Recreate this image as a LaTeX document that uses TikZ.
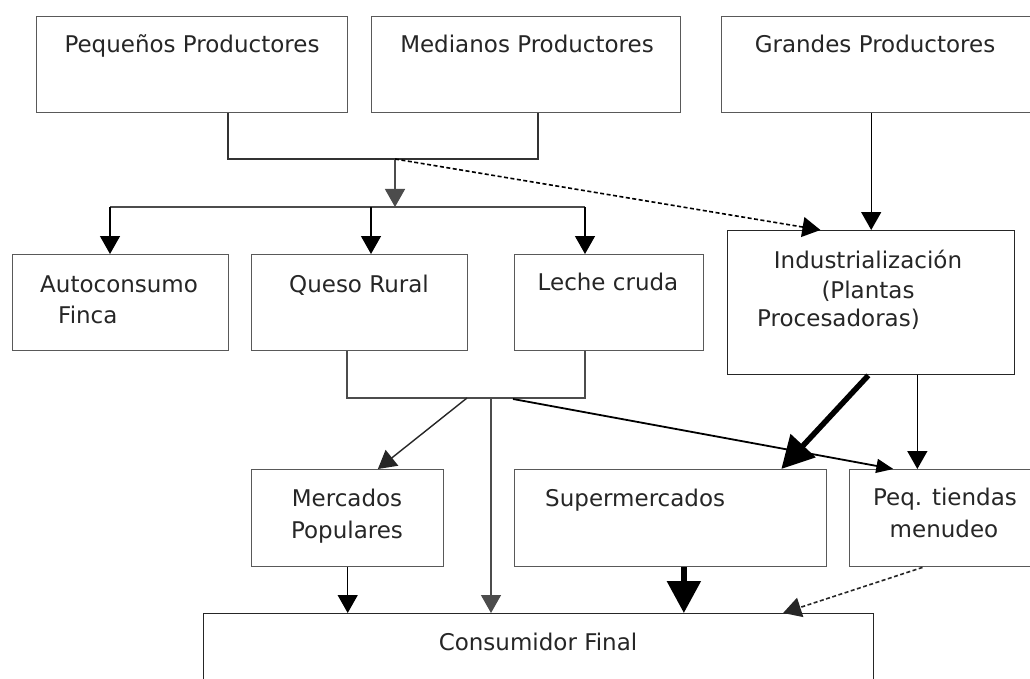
\documentclass[tikz,border=0pt]{standalone}
\usepackage{fontspec}
\setmainfont{DejaVu Sans}
\usetikzlibrary{arrows.meta,calc}
\begin{document}
\begin{tikzpicture}[x=1pt,y=-1pt,
  box/.style={draw=black!65,line width=1.4pt,rectangle,inner sep=0pt,anchor=north west},
  txt/.style={anchor=base,inner sep=0pt,font=\fontsize{23}{31}\selectfont,text=black!85},
  conn/.style={line width=1.4pt,draw=black},
  tip/.style={-{Triangle[width=20pt,length=18pt]}},
  slimtip/.style={-{Triangle[width=14pt,length=17pt]}},
  bigtip/.style={-{Triangle[width=33pt,length=32pt]},line width=5.5pt},
  dash2/.style={dash pattern=on 4pt off 2.5pt}
]
\useasboundingbox (0,0) rectangle (1030,679);
\clip (0,0) rectangle (1030,679);
\fill[white] (0,0) rectangle (1030,679);

% boxes
\node[box,minimum width=311pt,minimum height=96pt] (peq) at (36,16) {};
\node[box,minimum width=309pt,minimum height=96pt] (med) at (371,16) {};
\node[box,minimum width=330pt,minimum height=96pt] (gra) at (721,16) {};
\node[box,minimum width=216pt,minimum height=96pt] (auto) at (12,254) {};
\node[box,minimum width=216pt,minimum height=96pt] (queso) at (251,254) {};
\node[box,minimum width=189pt,minimum height=96pt] (leche) at (514,254) {};
\node[box,draw=black!85,minimum width=287pt,minimum height=144pt] (ind) at (727,230) {};
\node[box,minimum width=192pt,minimum height=97pt] (merc) at (251,469) {};
\node[box,minimum width=312pt,minimum height=97pt] (sup) at (514,469) {};
\node[box,minimum width=200pt,minimum height=97pt] (peqt) at (849,469) {};
\node[box,draw=black!85,minimum width=670pt,minimum height=130pt] (cons) at (203,613) {};

% texts
\node[txt] (tpeq) at (192,53) {Pequeños Productores};
\node[txt] (tmed) at (527,53) {Medianos Productores};
\node[txt] (tgra) at (875,53) {Grandes Productores};
\node[txt,anchor=base west] (tauto1) at (40,292) {Autoconsumo};
\node[txt,anchor=base west] (tauto2) at (58,323) {Finca};
\node[txt] (tqueso) at (359,292) {Queso Rural};
\node[txt] (tleche) at (608,290) {Leche cruda};
\node[txt] (tind1) at (868,268) {Industrialización};
\node[txt] (tind2) at (868,298) {(Plantas};
\node[txt,anchor=base west] (tind3) at (757,326) {Procesadoras)};
\node[txt] (tmerc1) at (347,506) {Mercados};
\node[txt] (tmerc2) at (347,538) {Populares};
\node[txt,anchor=base west] (tsup) at (545,506) {Supermercados};
\node[txt] (tpeqt1) at (945,505) {Peq. tiendas};
\node[txt] (tpeqt2) at (944,537) {menudeo};
\node[txt] (tcons) at (538,650) {Consumidor Final};

% junction coordinates
\coordinate (b1) at (228,159);
\coordinate (b2) at (538,159);
\coordinate (j1) at (395,159);
\coordinate (j2) at (395,207);
\coordinate (h1) at (110,207);
\coordinate (h3) at (371,207);
\coordinate (h2) at (585,207);
\coordinate (c1) at (347,398);
\coordinate (c2) at (585,398);
\coordinate (d1) at (467,398);
\coordinate (d2) at (491,398);
\coordinate (d3) at (513,399);

% top bracket and distribution
\draw[conn,draw=black!80] (peq.south -| b1) |- (b2) -- (med.south -| b2);
\draw[conn,draw=black!70,tip] (j1) -- (j2);
\draw[conn,draw=black!70] (h1) -- (h2);
\draw[conn,tip] (h1) -- (auto.north -| h1);
\draw[conn,tip] (h3) -- (queso.north -| h3);
\draw[conn,tip] (h2) -- (leche.north -| h2);
\draw[conn,dash2,line width=1.6pt,tip] (j1) -- ($(ind.north west)!0.324!(ind.north east)$);
\draw[conn,tip] (gra.south -| ind.north) -- (ind.north);

% middle bracket
\draw[conn,draw=black!70] (queso.south -| c1) |- (c2) -- (leche.south -| c2);
\draw[conn,draw=black!85,tip] (d1) -- ($(merc.north west)!0.656!(merc.north east)$);
\draw[conn,draw=black!70,tip] (d2) -- (cons.north -| d2);
\draw[conn,line width=1.8pt,slimtip] (d3) -- ($(peqt.north west)!0.22!(peqt.north east)$);

% industrialization outputs
\draw[bigtip] ($(ind.south west)!0.49!(ind.south east)$) -- ($(sup.north west)!0.853!(sup.north east)$);
\coordinate (i2) at ($(ind.south west)!0.66!(ind.south east)$);
\draw[conn,tip] (i2) -- (peqt.north -| i2);

% to consumer
\draw[conn,tip] (merc.south) -- (cons.north -| merc.south);
\coordinate (s1) at ($(sup.south west)!0.542!(sup.south east)$);
\draw[bigtip] (s1) -- (cons.north -| s1);
\draw[conn,dash2,line width=1.6pt,draw=black!85,tip] ($(peqt.south west)!0.365!(peqt.south east)$) -- ($(cons.north west)!0.864!(cons.north east)$);
\end{tikzpicture}
\end{document}
